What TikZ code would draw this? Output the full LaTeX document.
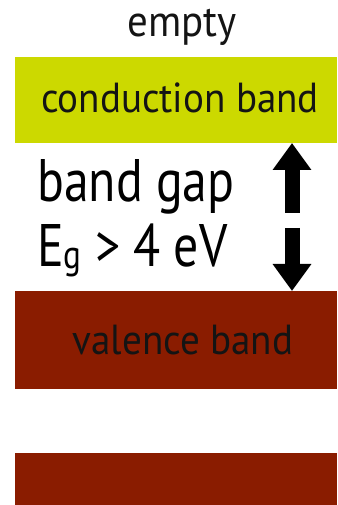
\documentclass[tikz,border=0pt]{standalone}
\usepackage{fontspec}
\setmainfont{PT Sans}[FakeStretch=0.93]
\newfontfamily\gapfont{PT Sans}[FakeStretch=0.83]
\usetikzlibrary{arrows.meta, calc, positioning}
\definecolor{bandGreen}{HTML}{CCD900}
\definecolor{bandRed}{HTML}{8A1C00}
\definecolor{txtDark}{HTML}{141414}
\tikzset{
  % one pixel of the reference is one point here
  every picture/.append style = {x=1pt, y=1pt},
  band/.style     = {draw=none, minimum width=322pt, inner sep=0pt, outer sep=0pt},
  cband/.style    = {band, fill=bandGreen},
  vband/.style    = {band, fill=bandRed},
  lbl/.style      = {inner sep=0pt, text=txtDark, font=\fontsize{42}{42}\selectfont},
  biglbl/.style   = {inner sep=0pt, text=black, font=\gapfont\fontsize{60}{60}\selectfont},
  fatarrow/.style = {-{Triangle[length=27pt, width=37pt]}, line width=15pt, black},
}

\begin{document}
\begin{tikzpicture}
\useasboundingbox (0,0) rectangle (337,505);
% ---- bands ---------------------------------------------------------------
\node[cband, minimum height=86pt] (cb) at (176,405) {};
\node[vband, minimum height=98pt] (vb) at (176,165) {};
\node[vband, minimum height=52pt] (lb) at (176,26) {};

% ---- labels --------------------------------------------------------------
\node[lbl, anchor=base, font=\fontsize{44}{44}\selectfont] (empty) at (182,468) {empty};
\node[lbl, anchor=base] (cblbl) at (180,392) {conduction band};
\node[lbl, anchor=base] (vblbl) at (183,150) {valence band};
\node[biglbl, anchor=base west] (gap) at (37,303) {band gap};
\node[biglbl, anchor=base west] (eg) at (37,238)
  {E\raisebox{-2pt}{\fontsize{40}{40}\selectfont g} {>} 4 eV};

% ---- gap arrows ----------------------------------------------------------
\coordinate (upfoot) at (292,292);
\coordinate (downfoot) at (292,277);
\draw[fatarrow] (upfoot) -- (upfoot |- cb.south);
\draw[fatarrow] (downfoot) -- (downfoot |- vb.north);
\end{tikzpicture}
\end{document}
